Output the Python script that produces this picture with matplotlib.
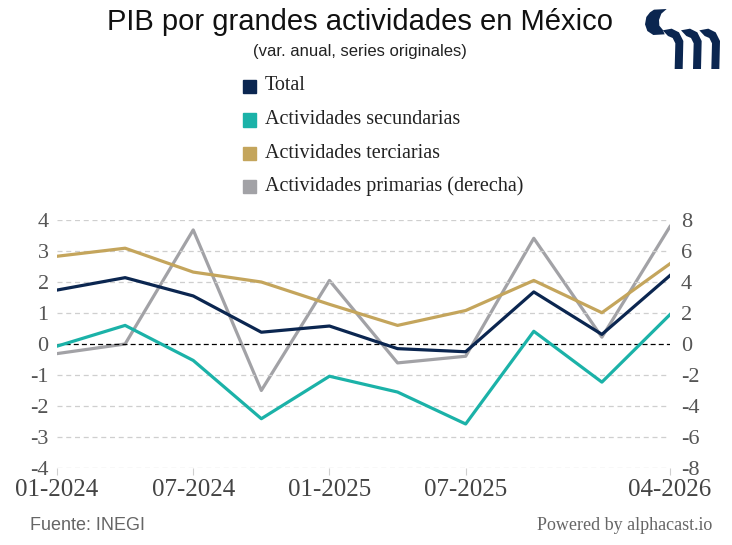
import matplotlib
matplotlib.use("Agg")
import matplotlib.pyplot as plt
from matplotlib.patches import Polygon, Rectangle

dates = ["01-2024", "04-2024", "07-2024", "10-2024", "01-2025", "04-2025",
         "07-2025", "10-2025", "01-2026", "04-2026"]
total = [1.74, 2.14, 1.55, 0.38, 0.58, -0.15, -0.25, 1.68, 0.31, 2.21]
secundarias = [-0.07, 0.60, -0.53, -2.41, -1.04, -1.55, -2.58, 0.41, -1.23, 0.95]
terciarias = [2.83, 3.09, 2.32, 2.00, 1.28, 0.60, 1.08, 2.05, 1.01, 2.59]
primarias = [-0.62, 0.0, 7.36, -3.0, 4.1, -1.22, -0.79, 6.82, 0.44, 7.58]

tick_idx = [0, 2, 4, 6, 9]
left_ticks = [-4, -3, -2, -1, 0, 1, 2, 3, 4]
right_ticks = [-8, -6, -4, -2, 0, 2, 4, 6, 8]

c_total = "#0b2650"
c_sec = "#1bb2a8"
c_ter = "#c4a55c"
c_pri = "#a2a2a6"

serif = "Liberation Serif"
sans = "Liberation Sans"

fig = plt.figure(figsize=(7.32, 5.45), dpi=100)
ax = fig.add_axes([57/732, 1-468/545, (670-57)/732, (468-220)/545])
ax2 = ax.twinx()

x = list(range(len(dates)))
ax.set_xlim(0, len(dates) - 1)
ax.set_ylim(-4, 4)
ax2.set_ylim(-8, 8)

for t in left_ticks:
    if t == 0:
        ax.axhline(0, color="black", lw=0.9, ls=(0, (4, 2.5)), zorder=1)
    else:
        ax.axhline(t, color="#cfcfcf", lw=0.9, ls=(0, (4, 3)), zorder=0)

ax2.plot(x, primarias, color=c_pri, lw=2.3, zorder=2)
ax.plot(x, terciarias, color=c_ter, lw=2.3, zorder=3)
ax.plot(x, total, color=c_total, lw=2.3, zorder=4)
ax.plot(x, secundarias, color=c_sec, lw=2.3, zorder=3)
ax.set_zorder(ax2.get_zorder() + 1)
ax.patch.set_visible(False)

ax.set_yticks(left_ticks)
ax.set_yticklabels([str(t) for t in left_ticks], fontfamily=serif, fontsize=16, color="#555555")
ax2.set_yticks(right_ticks)
ax2.set_yticklabels([str(t) for t in right_ticks], fontfamily=serif, fontsize=16, color="#555555")
ax.set_xticks(tick_idx)
ax.set_xticklabels([dates[i] for i in tick_idx], fontfamily=serif, fontsize=18, color="#444444")

for a in (ax, ax2):
    for s in a.spines.values():
        s.set_visible(False)
ax.tick_params(axis="y", length=0, pad=6)
ax2.tick_params(axis="y", length=0, pad=8)
ax.tick_params(axis="x", length=5, color="#cfcfcf", pad=3)

fig.text(0.492, 1-22/545, "PIB por grandes actividades en México", ha="center", va="center",
         fontfamily=sans, fontsize=21, color="#111111")
fig.text(0.492, 1-51/545, "(var. anual, series originales)", ha="center", va="center",
         fontfamily=sans, fontsize=12, color="#222222")

legend_items = [("Total", c_total), ("Actividades secundarias", c_sec),
                ("Actividades terciarias", c_ter), ("Actividades primarias (derecha)", c_pri)]
for i, (lab, col) in enumerate(legend_items):
    yc = 86 + i * 33.5
    fig.patches.append(Rectangle((243/732, 1-(yc+7)/545), 13/732, 13/545,
                                 transform=fig.transFigure, color=col))
    fig.text(265/732, 1-yc/545, lab, ha="left", va="center", fontfamily=serif,
             fontsize=14.5, color="#222222")

fig.text(30/732, 1-525/545, "Fuente: INEGI", ha="left", va="center", fontfamily=sans,
         fontsize=13, color="#666666")
fig.text(712/732, 1-525/545, "Powered by alphacast.io", ha="right", va="center",
         fontfamily=serif, fontsize=13, color="#666666")

# logo (zoom-crop coordinates: origin 640,5 scaled 3x)
logo = "#0b2650"
def P(pts):
    fig.patches.append(Polygon([((640 + zx/3)/732, 1-(5 + zy/3)/545) for zx, zy in pts],
                               closed=True, transform=fig.transFigure, color=logo, lw=0))
P([(42, 14), (80, 12), (64, 26), (57, 45), (58, 62), (68, 74), (74, 88), (40, 90),
   (22, 78), (15, 58), (19, 36), (30, 22)])
for dx in (0, 55, 110):
    P([(68+dx, 76), (95+dx, 71), (117+dx, 82), (130+dx, 108), (128+dx, 192), (104+dx, 192),
       (106+dx, 115), (98+dx, 99), (84+dx, 93)])

fig.savefig("out.png", dpi=100)
